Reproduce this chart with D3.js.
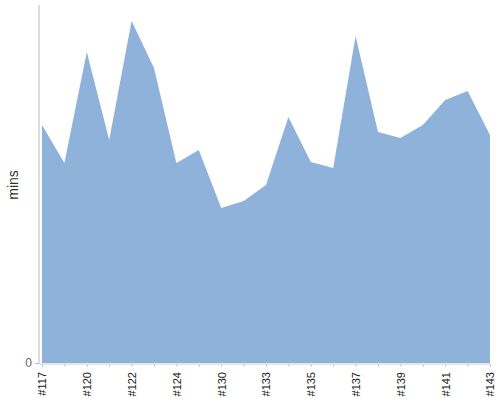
<!DOCTYPE html>
<html>
<head>
<meta charset="utf-8">
<script src="https://cdn.jsdelivr.net/npm/d3@7"></script>
<style>
  body { margin: 0; background: #fff; }
  text { font-family: "Liberation Sans", Arial, sans-serif; }
</style>
</head>
<body>
<div id="chart"></div>
<script>
// build numbers along the x axis (every other one is labelled)
var builds = ["#117", "#119", "#120", "#121", "#122", "#123", "#124", "#126", "#130", "#131",
  "#133", "#134", "#135", "#136", "#137", "#138", "#139", "#140", "#141", "#142", "#143"];

// duration in minutes
var mins = [23.8, 20.0, 31.1, 22.3, 34.2, 29.5, 20.0, 21.3, 15.5, 16.2,
  17.8, 24.6, 20.1, 19.5, 32.7, 23.1, 22.5, 23.8, 26.3, 27.2, 22.8];

var yTicks = [0];

var width = 500;
var height = 400;

var svg = d3.select("#chart")
  .append("svg")
  .attr("width", width)
  .attr("height", height);

var x = d3.scalePoint()
  .domain(builds)
  .range([42, 490]);

var y = d3.scaleLinear()
  .domain([0, 35.8])
  .range([363, 5]);

// the area
var area = d3.area()
  .x(function(d, i) { return x(builds[i]); })
  .y0(y(0))
  .y1(function(d) { return y(d); });

svg.append("path")
  .datum(mins)
  .attr("d", area)
  .attr("fill", "#8fb2da");

// y axis - just a line and the zero
var yAxis = d3.axisLeft(y).tickValues(yTicks).tickSize(4).tickPadding(3);
var gy = svg.append("g")
  .attr("transform", "translate(39,0)")
  .call(yAxis);
gy.select(".domain").attr("stroke", "#bbb").attr("d", "M0,5V364");
gy.selectAll(".tick line").attr("stroke", "#bbb");
gy.selectAll(".tick text").attr("fill", "#666").attr("font-size", 12);

// x axis
var xAxis = d3.axisBottom(x)
  .tickSize(3)
  .tickFormat(function(d, i) { return i % 2 == 0 ? d : ""; });
var gx = svg.append("g")
  .attr("transform", "translate(0,364)")
  .call(xAxis);
gx.select(".domain").attr("stroke", "#ccc").attr("d", "M39,0H491");
gx.selectAll(".tick line").attr("stroke", "#ccc");
gx.selectAll(".tick text")
  .attr("fill", "#222")
  .attr("font-size", 11)
  .attr("transform", "rotate(-90)")
  .attr("text-anchor", "end")
  .attr("x", -8)
  .attr("y", 0)
  .attr("dy", "0.35em");

// y label
svg.append("text")
  .attr("transform", "translate(18,185)rotate(-90)")
  .attr("text-anchor", "middle")
  .attr("font-size", 14)
  .attr("fill", "#333")
  .text("mins");
</script>
</body>
</html>
